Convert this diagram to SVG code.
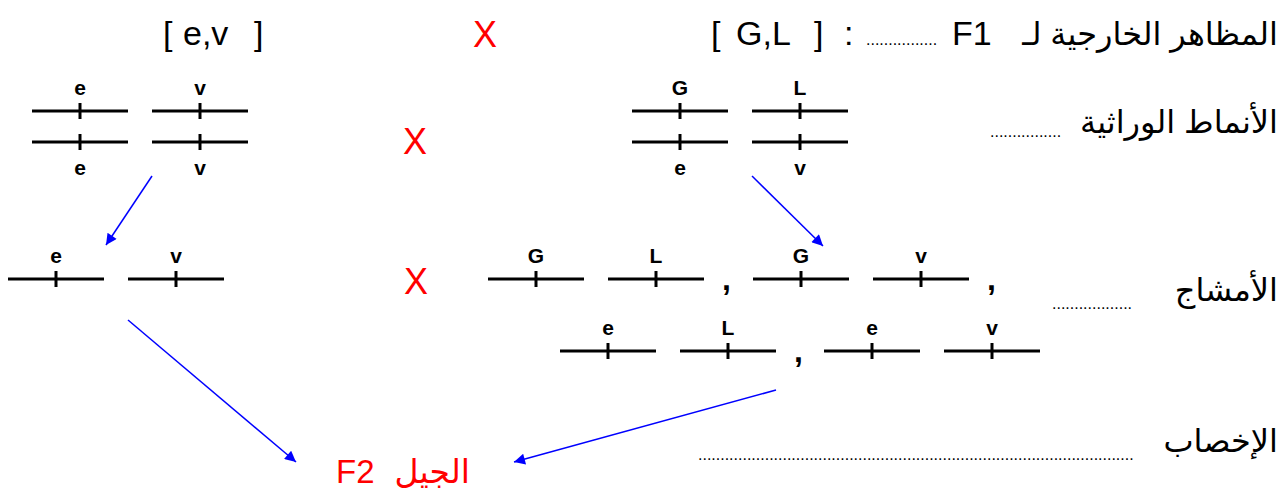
<svg xmlns="http://www.w3.org/2000/svg" width="1282" height="488" viewBox="0 0 1282 488">
<style>
text{font-family:"Liberation Sans","DejaVu Sans",sans-serif}
.big{font-size:34px;fill:#000}
.ar{font-size:32px;fill:#000}
.dots{font-size:16px;fill:#000}
.x{font-size:36px;fill:#ff0000;text-anchor:middle}
.lbl{font-size:21px;font-weight:bold;fill:#000;text-anchor:middle}
.com{font-size:32px;font-weight:bold;fill:#000}
.red{font-size:33px;fill:#ff0000}
.arrow{stroke:#0000ff;stroke-width:1.5;fill:none;marker-end:url(#ah)}
</style>
<defs>
<marker id="ah" viewBox="0 0 10 10" refX="10" refY="5" markerWidth="14" markerHeight="11" markerUnits="userSpaceOnUse" orient="auto">
<path d="M0,0 L10,5 L0,10 z" fill="#0000ff"/>
</marker>
<g id="seg" stroke="#000" stroke-width="3"><line x1="-48" y1="0" x2="48" y2="0"/><line x1="0" y1="-8" x2="0" y2="8"/></g>
</defs>

<g id="headings">
<text class="big" x="163" y="45">[</text>
<text class="big" x="183" y="45">e,v</text>
<text class="big" x="254" y="45">]</text>
<text class="x" x="485" y="47">X</text>
<text class="big" x="711" y="45">[</text>
<text class="big" x="736" y="45">G,L</text>
<text class="big" x="814" y="45">]</text>
<text class="big" x="844" y="45">:</text>
<text class="dots" x="866" y="45">................</text>
<text class="big" x="952" y="45">F1</text>
<text class="ar" x="1278" y="45" text-anchor="end">المظاهر الخارجية لـ</text>
</g>

<g id="row-genotypes">
<text class="ar" x="1278" y="133" text-anchor="end">الأنماط الوراثية</text>
<text class="dots" x="990" y="137">................</text>
<text class="x" x="415" y="154">X</text>
</g>

<g id="parent1">
<use href="#seg" x="80" y="111"/><use href="#seg" x="80" y="142"/>
<use href="#seg" x="200" y="111"/><use href="#seg" x="200" y="142"/>
<text class="lbl" x="80" y="95">e</text><text class="lbl" x="200" y="95">v</text>
<text class="lbl" x="80" y="175">e</text><text class="lbl" x="200" y="175">v</text>
</g>

<g id="parent2">
<use href="#seg" x="680" y="111"/><use href="#seg" x="680" y="142"/>
<use href="#seg" x="800" y="111"/><use href="#seg" x="800" y="142"/>
<text class="lbl" x="680" y="95">G</text><text class="lbl" x="800" y="95">L</text>
<text class="lbl" x="680" y="175">e</text><text class="lbl" x="800" y="175">v</text>
</g>

<g id="row-gametes">
<text class="ar" x="1278" y="301" text-anchor="end">الأمشاج</text>
<text class="dots" x="1052" y="309">..................</text>
<text class="x" x="416" y="294">X</text>
</g>

<g id="gamete-parent1">
<use href="#seg" x="56" y="279"/><use href="#seg" x="176" y="279"/>
<text class="lbl" x="56" y="263">e</text><text class="lbl" x="176" y="263">v</text>
</g>

<g id="gametes-parent2">
<use href="#seg" x="536" y="279"/><use href="#seg" x="656" y="279"/>
<text class="lbl" x="536" y="263">G</text><text class="lbl" x="656" y="263">L</text>
<text class="com" x="722" y="290">,</text>
<use href="#seg" x="801" y="279"/><use href="#seg" x="921" y="279"/>
<text class="lbl" x="801" y="263">G</text><text class="lbl" x="921" y="263">v</text>
<text class="com" x="987" y="290">,</text>
<use href="#seg" x="608" y="351"/><use href="#seg" x="728" y="351"/>
<text class="lbl" x="608" y="335">e</text><text class="lbl" x="728" y="335">L</text>
<text class="com" x="794" y="362">,</text>
<use href="#seg" x="872" y="351"/><use href="#seg" x="992" y="351"/>
<text class="lbl" x="872" y="335">e</text><text class="lbl" x="992" y="335">v</text>
</g>

<g id="row-fertilization">
<text class="ar" x="1278" y="452" text-anchor="end">الإخصاب</text>
<text class="dots" x="698" y="460">..................................................................................................</text>
</g>

<g id="f2">
<text class="red" x="336" y="483">F2</text>
<text class="red" x="470" y="483" text-anchor="end">الجيل</text>
</g>

<g id="connectors">
<line class="arrow" x1="152" y1="176" x2="106" y2="245"/>
<line class="arrow" x1="752" y1="176" x2="823" y2="246"/>
<line class="arrow" x1="128" y1="320" x2="296" y2="462"/>
<line class="arrow" x1="776" y1="390" x2="514" y2="462"/>
</g>
</svg>
